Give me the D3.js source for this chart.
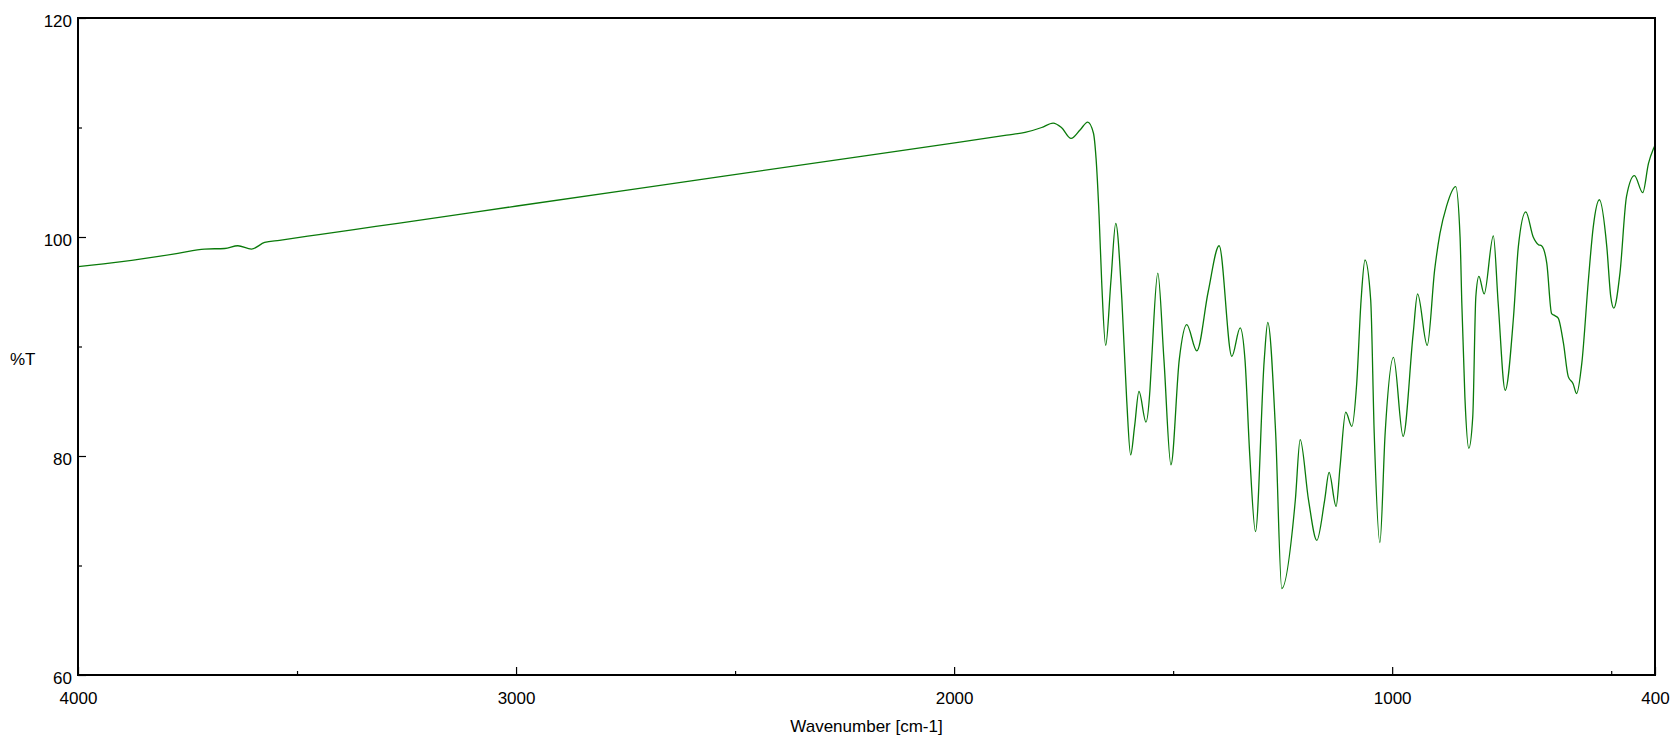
<!DOCTYPE html>
<html>
<head>
<meta charset="utf-8">
<script src="https://cdn.jsdelivr.net/npm/d3@7/dist/d3.min.js"></script>
<style>
  html, body { margin: 0; padding: 0; background: #fff; }
  svg { display: block; }
  text { font-family: "Liberation Sans", Arial, sans-serif; fill: #000; }
</style>
</head>
<body>
<svg id="chart" width="1675" height="740"></svg>
<script>
// ---- data ----
const wavenumbers = [
  4000, 3900, 3772, 3711, 3665, 3635, 3604, 3574, 3540, 3450, 3370, 3270, 2998, 2600, 2200, 1987, 1880, 1838,
  1800, 1774, 1755, 1733, 1712, 1695, 1682, 1676, 1669, 1663, 1654, 1642, 1631, 1617, 1606,
  1597, 1588, 1578, 1562, 1553, 1549, 1535, 1521, 1505, 1486, 1469, 1446, 1420, 1395, 1366,
  1347, 1336, 1325, 1312, 1292, 1284, 1266, 1252, 1221, 1210, 1191, 1172, 1154, 1144, 1128,
  1119, 1106, 1092, 1081, 1071, 1062, 1049, 1041, 1028, 1016, 997, 975, 952, 942, 920,
  903, 891, 876, 855, 845, 841, 834, 825, 816, 809, 802, 790, 769, 758, 742,
  723, 712, 695, 678, 666, 659, 647, 636, 628, 621, 609, 598, 587, 579, 567,
  552, 541, 527, 510, 501, 494, 480, 465, 447, 428, 415, 401, 400
];
const transmittance = [
  97.3, 97.75, 98.5, 98.9, 98.95, 99.2, 98.9, 99.5, 99.7, 100.22, 100.68, 101.25, 102.83, 105.13, 107.44, 108.67, 109.3, 109.55,
  110.0, 110.4, 110.0, 109.0, 109.8, 110.5, 109.5, 107.2, 101.9, 95.8, 90.1, 96.0, 101.25, 94.25, 85.1,
  80.1, 82.7, 85.9, 83.1, 86.0, 88.8, 96.7, 88.8, 79.2, 88.8, 92.0, 89.6, 95.0, 99.2, 89.1,
  91.7, 88.8, 80.0, 73.1, 88.8, 92.2, 82.1, 67.9, 76.0, 81.5, 76.0, 72.3, 76.0, 78.5, 75.4,
  79.0, 84.0, 82.7, 86.6, 94.2, 97.9, 94.25, 82.1, 72.1, 82.1, 89.0, 81.8, 91.2, 94.8, 90.1,
  97.0, 100.3, 102.8, 104.6, 100.0, 93.95, 85.4, 80.7, 83.6, 94.55, 96.4, 94.8, 100.1, 93.95, 86.0,
  92.7, 99.1, 102.3, 100.0, 99.3, 99.2, 97.6, 93.0, 92.8, 92.6, 90.3, 87.25, 86.6, 85.7, 88.5,
  96.1, 100.9, 103.4, 99.1, 94.55, 93.5, 96.7, 103.7, 105.6, 104.05, 106.7, 108.3, 108.4
];
const xMajorTicks = [4000, 3000, 2000, 1000, 400];
const xMinorTicks = [3500, 2500, 1500, 500];
const yMajorTicks = [60, 80, 100, 120];
const yMinorTicks = [70, 90, 110];
const xDomain = [4000, 400];
const yDomain = [60, 120];
const xTitle = "Wavenumber [cm-1]";
const yTitle = "%T";

// ---- layout ----
const svg = d3.select("#chart");
const L = 78, R = 1655, T = 18, B = 675;
const x = d3.scaleLinear().domain(xDomain).range([L, R]);
const y = d3.scaleLinear().domain(yDomain).range([B, T]);
const fontSize = 17;

const data = wavenumbers.map((w, i) => ({ w, t: transmittance[i] }));

// spectrum line
svg.append("clipPath").attr("id", "clip")
  .append("rect").attr("x", L).attr("y", T).attr("width", R - L).attr("height", B - T);

const line = d3.line()
  .x(d => x(d.w))
  .y(d => y(d.t))
  .curve(d3.curveMonotoneX);

svg.append("path")
  .datum(data)
  .attr("clip-path", "url(#clip)")
  .attr("fill", "none")
  .attr("stroke", "#0a7a0a")
  .attr("stroke-width", 1.3)
  .attr("d", line);

// axes (ticks inward)
function styleAxis(g) {
  g.select(".domain").remove();
  g.selectAll("line").attr("stroke", "#000").attr("stroke-width", 1.2);
  g.selectAll("text")
    .style("font-family", '"Liberation Sans", Arial, sans-serif')
    .style("font-size", fontSize + "px")
    .attr("fill", "#000");
}

// bottom major
svg.append("g")
  .attr("transform", `translate(0,${B})`)
  .call(d3.axisBottom(x).tickValues(xMajorTicks).tickFormat(d3.format("d"))
        .tickSizeInner(-8).tickSizeOuter(0).tickPadding(17))
  .call(styleAxis);
// bottom minor
svg.append("g")
  .attr("transform", `translate(0,${B})`)
  .call(d3.axisBottom(x).tickValues(xMinorTicks).tickFormat("")
        .tickSizeInner(-4).tickSizeOuter(0))
  .call(styleAxis);
// left major
svg.append("g")
  .attr("transform", `translate(${L},0)`)
  .call(d3.axisLeft(y).tickValues(yMajorTicks).tickFormat(d3.format("d"))
        .tickSizeInner(-8).tickSizeOuter(0).tickPadding(6))
  .call(styleAxis)
  .selectAll("text").attr("dy", "0.5em");
// left minor
svg.append("g")
  .attr("transform", `translate(${L},0)`)
  .call(d3.axisLeft(y).tickValues(yMinorTicks).tickFormat("")
        .tickSizeInner(-4).tickSizeOuter(0))
  .call(styleAxis);

// frame
svg.append("rect")
  .attr("x", L).attr("y", T).attr("width", R - L).attr("height", B - T)
  .attr("fill", "none").attr("stroke", "#000").attr("stroke-width", 2);

// titles
svg.append("text")
  .attr("x", (L + R) / 2).attr("y", 732)
  .attr("text-anchor", "middle")
  .style("font-size", fontSize + "px")
  .text(xTitle);

svg.append("text")
  .attr("x", 10).attr("y", 365)
  .attr("text-anchor", "start")
  .style("font-size", fontSize + "px")
  .text(yTitle);
</script>
</body>
</html>
